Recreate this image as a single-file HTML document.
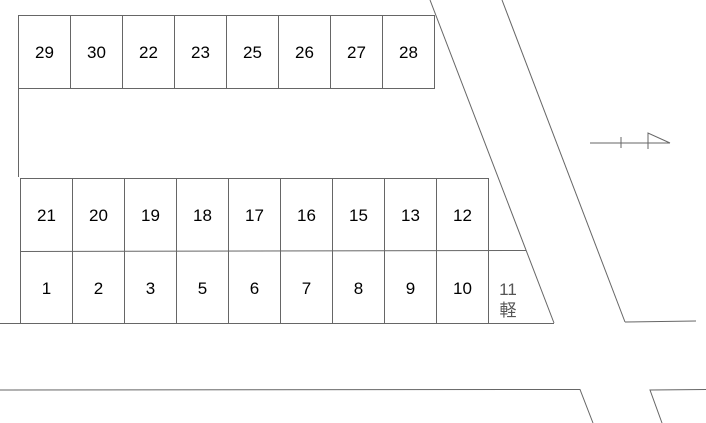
<!DOCTYPE html>
<html><head><meta charset="utf-8"><style>
html,body{margin:0;padding:0;background:#fff;width:706px;height:423px;overflow:hidden}
svg{display:block}
text{font-family:"Liberation Sans","Noto Sans CJK JP",sans-serif;font-size:17px;fill:#000;text-anchor:middle}
</style></head><body>
<svg width="706" height="423" viewBox="0 0 706 423" xmlns="http://www.w3.org/2000/svg">
<g stroke="#666" stroke-width="1" fill="none">
<!-- top row -->
<rect x="18.5" y="15.5" width="416" height="73"/>
<line x1="70.5" y1="15" x2="70.5" y2="88"/>
<line x1="122.5" y1="15" x2="122.5" y2="88"/>
<line x1="174.5" y1="15" x2="174.5" y2="88"/>
<line x1="226.5" y1="15" x2="226.5" y2="88"/>
<line x1="278.5" y1="15" x2="278.5" y2="88"/>
<line x1="330.5" y1="15" x2="330.5" y2="88"/>
<line x1="382.5" y1="15" x2="382.5" y2="88"/>
<line x1="18.5" y1="88" x2="18.5" y2="177"/>
<!-- middle rows -->
<rect x="20.5" y="178.5" width="468" height="145"/>
<line x1="20" y1="251.5" x2="526" y2="250.5"/>
<line x1="72.5" y1="178" x2="72.5" y2="324"/>
<line x1="124.5" y1="178" x2="124.5" y2="324"/>
<line x1="176.5" y1="178" x2="176.5" y2="324"/>
<line x1="228.5" y1="178" x2="228.5" y2="324"/>
<line x1="280.5" y1="178" x2="280.5" y2="324"/>
<line x1="332.5" y1="178" x2="332.5" y2="324"/>
<line x1="384.5" y1="178" x2="384.5" y2="324"/>
<line x1="436.5" y1="178" x2="436.5" y2="324"/>
<line x1="0" y1="323.5" x2="554" y2="323.5"/>
<!-- slopes -->
<line x1="430" y1="0" x2="554" y2="323"/>
<line x1="502" y1="0" x2="625" y2="322"/>
<line x1="625" y1="322" x2="696" y2="321"/>
<!-- bottom road -->
<polyline points="0,390 580,389.5 593,423"/>
<polyline points="706,389.5 650,390 662,423"/>
<!-- compass -->
<line x1="590" y1="143" x2="670" y2="143"/>
<line x1="621" y1="137" x2="621" y2="148"/>
<polyline points="648,149 648,133 670,143"/>
</g>
<g>
<text x="44.5" y="58">29</text><text x="96.5" y="58">30</text><text x="148.5" y="58">22</text><text x="200.5" y="58">23</text>
<text x="252.5" y="58">25</text><text x="304.5" y="58">26</text><text x="356.5" y="58">27</text><text x="408.5" y="58">28</text>
<text x="46.5" y="221">21</text><text x="98.5" y="221">20</text><text x="150.5" y="221">19</text><text x="202.5" y="221">18</text>
<text x="254.5" y="221">17</text><text x="306.5" y="221">16</text><text x="358.5" y="221">15</text><text x="410.5" y="221">13</text><text x="462.5" y="221">12</text>
<text x="46.5" y="294">1</text><text x="98.5" y="294">2</text><text x="150.5" y="294">3</text><text x="202.5" y="294">5</text>
<text x="254.5" y="294">6</text><text x="306.5" y="294">7</text><text x="358.5" y="294">8</text><text x="410.5" y="294">9</text><text x="462.5" y="294">10</text>
<text x="508" y="295" style="fill:#555">11</text>
<text x="508" y="316" style="fill:#555">軽</text>
</g>
</svg>
</body></html>
